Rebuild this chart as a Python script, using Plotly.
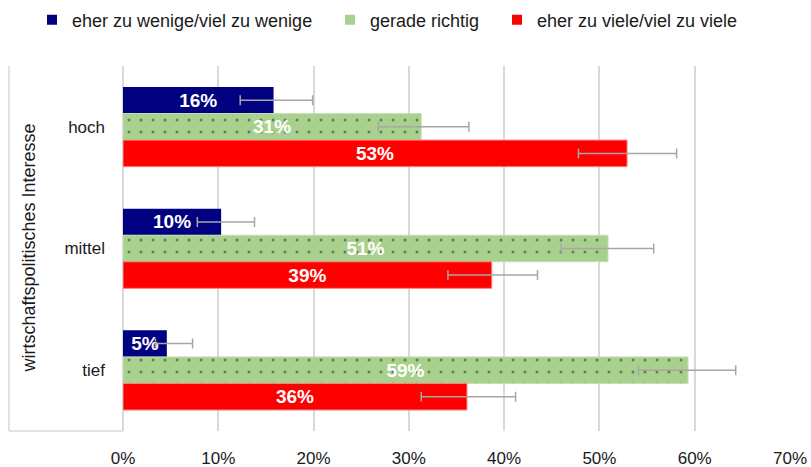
import plotly.graph_objects as go

categories = ["hoch", "mittel", "tief"]
series_names = ["eher zu wenige/viel zu wenige", "gerade richtig", "eher zu viele/viel zu viele"]
colors = ["#000080", "#a9d18e", "#ff0000"]

zu_wenige = [15.8, 10.3, 4.6]
richtig = [31.3, 50.9, 59.3]
zu_viele = [52.9, 38.7, 36.1]

err_plus_wenige = [4.1, 3.5, 2.7]
err_minus_wenige = [3.5, 2.5, 1.2]
err_plus_richtig = [5.0, 4.8, 5.0]
err_minus_richtig = [4.5, 4.9, 5.2]
err_plus_viele = [5.2, 4.8, 5.1]
err_minus_viele = [5.1, 4.6, 4.8]

x_ticks = [0, 10, 20, 30, 40, 50, 60, 70]
x_ticklabels = ["0%", "10%", "20%", "30%", "40%", "50%", "60%", "70%"]
y_title = "wirtschaftspolitisches Interesse"

FONT = "Liberation Sans"
TXT = "#1a1a1a"
GRID = "#d9d9d9"

W, H = 811, 467
ML, MR, MT, MB = 123, 21, 66, 36
PW = W - ML - MR

def px2paper(px):
    return (px - ML) / PW

fig = go.Figure()

data = [
    (zu_wenige, err_plus_wenige, err_minus_wenige, None, dict(width=0)),
    (richtig, err_plus_richtig, err_minus_richtig,
     dict(shape=".", fgcolor="#262626", size=12, solidity=0.05), dict(color="#c6e0b4", width=1)),
    (zu_viele, err_plus_viele, err_minus_viele, None, dict(color="#ff8080", width=1)),
]

for i, (vals, ep, em, pat, line) in enumerate(data):
    marker = dict(color=colors[i], line=line)
    if pat:
        marker["pattern"] = pat
    fig.add_trace(go.Bar(
        y=categories, x=vals, orientation="h",
        name=series_names[i], showlegend=False,
        marker=marker,
        texttemplate="%{x:.0f}%", textposition="inside",
        insidetextanchor="middle", textangle=0, constraintext="none",
        textfont=dict(family=FONT, size=19, color="white", weight="bold"),
        error_x=dict(type="data", symmetric=False, array=ep, arrayminus=em,
                     color="#a6a6a6", thickness=1.5, width=5),
        hoverinfo="skip",
    ))

# legend entries (one legend per item for exact placement)
legend_px = [32, 330, 497]
for i, name in enumerate(series_names):
    lg = "legend" if i == 0 else f"legend{i+1}"
    fig.add_trace(go.Scatter(
        x=[None], y=[None], mode="markers", name=name,
        marker=dict(color=colors[i], symbol="square", size=10),
        showlegend=True, legend=lg,
    ))

legend_common = dict(orientation="h", yanchor="middle", y=1.0 + (MT - 20) / (H - MT - MB),
                     xanchor="left", font=dict(family=FONT, size=18, color=TXT),
                     bgcolor="rgba(0,0,0,0)", borderwidth=0)
fig.update_layout(
    legend=dict(x=px2paper(legend_px[0]), **legend_common),
    legend2=dict(x=px2paper(legend_px[1]), **legend_common),
    legend3=dict(x=px2paper(legend_px[2]), **legend_common),
)

fig.update_layout(
    width=W, height=H,
    margin=dict(l=ML, r=MR, t=MT, b=MB, autoexpand=False),
    paper_bgcolor="white", plot_bgcolor="white",
    barmode="group", bargap=0.345, bargroupgap=0,
    font=dict(family=FONT, color=TXT),
    xaxis=dict(range=[0, 70], tickvals=x_ticks, ticktext=x_ticklabels,
               showgrid=True, gridcolor=GRID, gridwidth=1.5,
               zeroline=True, zerolinecolor=GRID, zerolinewidth=1.5,
               showline=False, ticks="", ticklabelstandoff=15,
               tickfont=dict(family=FONT, size=17, color=TXT), automargin=False),
    yaxis=dict(autorange="reversed", showgrid=False, zeroline=False, showline=False,
               ticks="", ticklabelstandoff=17,
               tickfont=dict(family=FONT, size=17, color=TXT), automargin=False),
)

# left frame of category area
fig.add_shape(type="line", xref="paper", yref="paper",
              x0=px2paper(9), x1=px2paper(9), y0=0, y1=1,
              line=dict(color=GRID, width=1.5))
fig.add_shape(type="line", xref="paper", yref="paper",
              x0=px2paper(9), x1=0, y0=0, y1=0,
              line=dict(color=GRID, width=1.5))

fig.add_annotation(text=y_title, textangle=-90, xref="paper", yref="paper",
                   x=px2paper(28), y=0.5, xanchor="center", yanchor="middle",
                   showarrow=False, font=dict(family=FONT, size=18, color=TXT))

fig.write_html("out.html", config={"displayModeBar": False},
               post_script="document.body.style.margin='0';")
